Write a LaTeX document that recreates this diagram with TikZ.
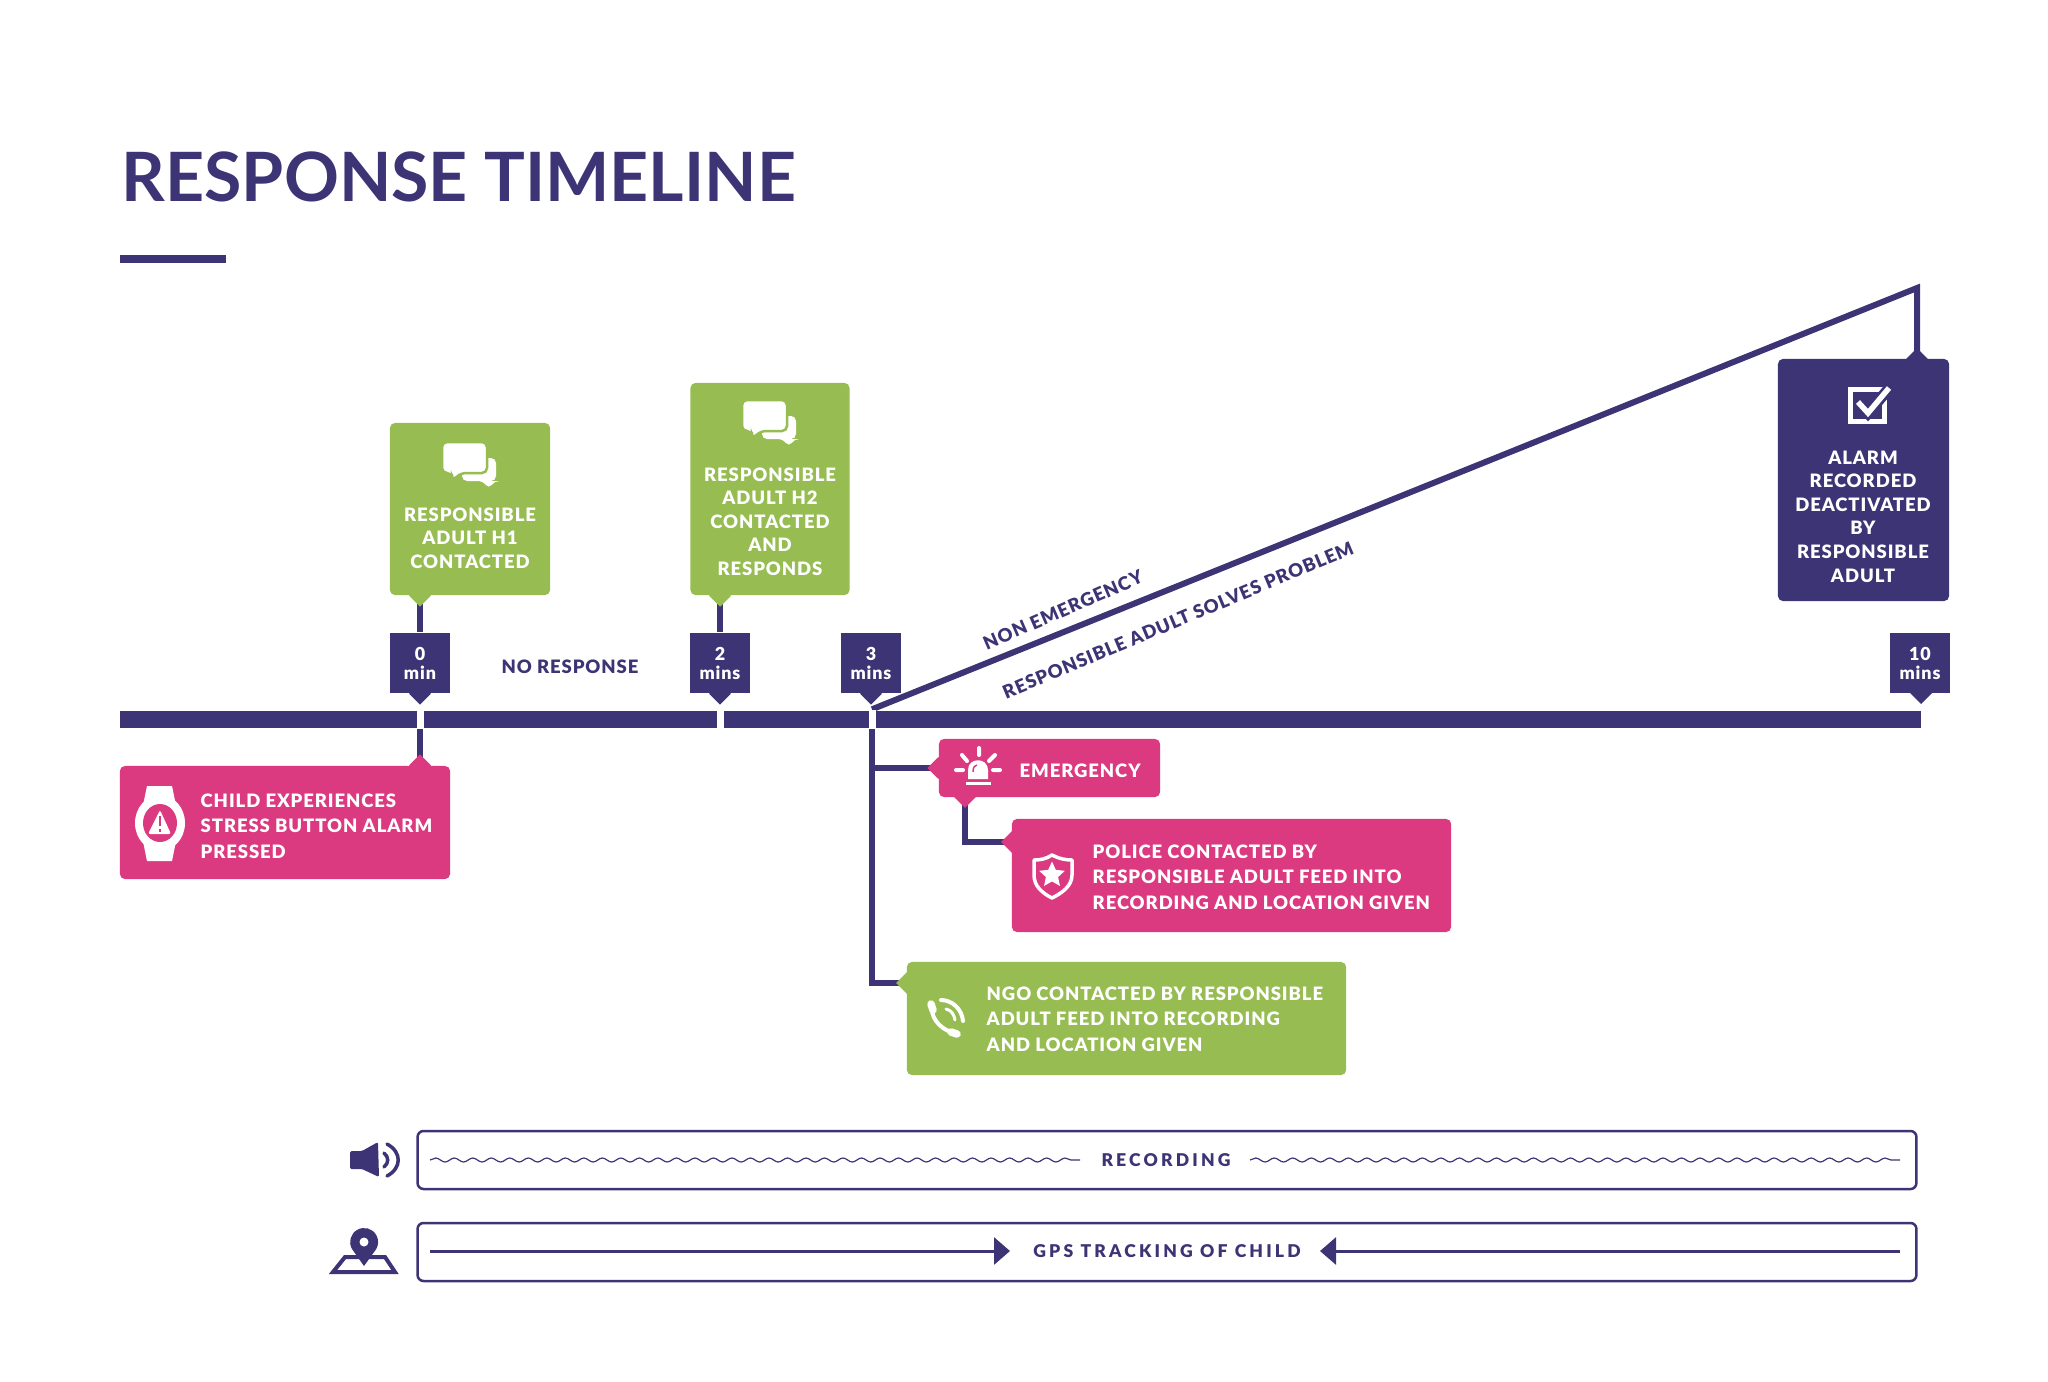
\documentclass[tikz,border=0pt]{standalone}
\usepackage{fontspec}
\setmainfont{Lato}
\newfontfamily\heavy[LetterSpace=5]{Lato Black}
\usepackage{xcolor}
\usepackage{tikz}
\usetikzlibrary{shapes,arrows.meta,positioning,calc,backgrounds,decorations.pathmorphing}
\definecolor{tlnavy}{RGB}{60,52,116}
\definecolor{tlgreen}{RGB}{150,188,82}
\definecolor{tlpink}{RGB}{219,58,128}
\tikzset{
    bubbles/.pic={
        \fill[white, rounded corners=.05cm] (-8,-7) -- (26,-7) -- (26,16) -- (24,16) -- (19,24) -- (13,16) -- (-8,16) -- cycle;
        \path[fill=white, draw=tlgreen, line width=.025cm, rounded corners=.05cm]
            (-28,-23) -- (17,-23) -- (17,8) -- (-9,8) -- (-18,16) -- (-18,8) -- (-28,8) -- cycle;
    }
}

\begin{document}
\begin{tikzpicture}[
    x=.01cm, y=-.01cm,
    card/.style={rectangle, rounded corners=.05cm, inner sep=0pt},
    greencard/.style={card, fill=tlgreen},
    pinkcard/.style={card, fill=tlpink},
    navycard/.style={card, fill=tlnavy},
    tagbox/.style={rectangle, fill=tlnavy, text=white, minimum width=.6cm, minimum height=.6cm, inner sep=0pt,
                align=center, font=\fontsize{5.1}{5.4}\heavy, execute at begin node={\rule{0pt}{5.9pt}}},
    tipmark/.style={rectangle, rotate=45, minimum size=.155cm, inner sep=0pt},
    cardtext/.style={text=white, inner sep=0pt, align=center, font=\fontsize{5.25}{6.7}\heavy},
    sidetext/.style={text=white, inner sep=0pt, anchor=west, align=left, font=\fontsize{5.25}{7.25}\heavy},
    navytext/.style={text=tlnavy, inner sep=0pt, font=\fontsize{5.25}{6}\heavy},
    spaced/.style={text=tlnavy, inner sep=0pt, font=\fontsize{5}{6}\heavy\addfontfeature{LetterSpace=18}},
    gap/.style={rectangle, fill=white, minimum width=.07cm, minimum height=.18cm, inner sep=0pt},
    stem/.style={draw=tlnavy, line width=.06cm},
    band/.style={rectangle, draw=tlnavy, line width=.025cm, rounded corners=.06cm, minimum height=.58cm, inner sep=0pt},
    icon/.style={white, line width=.04cm, line cap=round},
    navyicon/.style={tlnavy, line width=.04cm}
]
    \useasboundingbox (0,0) rectangle (2048,1381);

    % title
    \node[text=tlnavy, inner sep=0pt, anchor=west, font=\fontsize{19.35}{24}\selectfont\bfseries] (title) at (121,177) {RESPONSE TIMELINE};
    \node[rectangle, fill=tlnavy, minimum width=1.06cm, minimum height=.08cm, inner sep=0pt] (rule) at (173,259) {};

    % main bar and the gaps in it
    \node[rectangle, fill=tlnavy, minimum width=18.0cm, minimum height=.17cm, inner sep=0pt] (timebar) at (1020.5,719) {};
    \node[gap] (gapzero)  at (420,719) {};
    \node[gap] (gaptwo)   at (720,719) {};
    \node[gap] (gapthree) at (872,719) {};

    % time tags
    \node[tagbox] (tagzero)  at ( 420,663) {0\\min};
    \node[tagbox] (tagtwo)   at ( 720,663) {2\\mins};
    \node[tagbox] (tagthree) at ( 871,663) {3\\mins};
    \node[tagbox] (tagten)   at (1920,663) {10\\mins};
    \foreach \t in {tagzero,tagtwo,tagthree}
        \node[tipmark, fill=tlnavy] (\t tip) at (\t.south) {};
    \node[tipmark, fill=tlnavy] (tagtentip) at (1921,693) {};

    % cards
    \node[greencard, minimum width=1.6cm, minimum height=1.72cm]  (adultone) at (470,509) {};
    \node[greencard, minimum width=1.59cm, minimum height=2.12cm] (adulttwo) at (770,489) {};
    \node[navycard,  minimum width=1.71cm, minimum height=2.42cm] (alarm)    at (1863.5,480) {};
    \node[pinkcard,  minimum width=3.30cm, minimum height=1.13cm] (child)    at (285,822.5) {};
    \node[pinkcard,  minimum width=2.21cm, minimum height=.58cm]  (emergency) at (1049.5,768) {};
    \node[pinkcard,  minimum width=4.39cm, minimum height=1.13cm] (police)   at (1231.5,875.5) {};
    \node[greencard, minimum width=4.39cm, minimum height=1.13cm] (ngo)      at (1126.5,1018.5) {};

    \node[tipmark, fill=tlgreen] (adultonetip) at (adultone.south -| tagzero) {};
    \node[tipmark, fill=tlgreen] (adulttwotip) at (adulttwo.south -| tagtwo) {};
    \node[tipmark, fill=tlnavy]  (alarmtip)    at (1917,359) {};
    \node[tipmark, fill=tlpink]  (childtip)    at (child.north -| tagzero) {};
    \node[tipmark, fill=tlpink]  (emergencytip)  at (emergency.west) {};
    \node[tipmark, fill=tlpink]  (emergencydown) at (965,797) {};
    \node[tipmark, fill=tlpink]  (policetip)   at (1012,842) {};
    \node[tipmark, fill=tlgreen] (ngotip)      at (907,983) {};

    % connectors
    \coordinate (apex) at (1917,288);
    \begin{scope}[on background layer]
        \draw[stem] (tagzero) -- (adultonetip.center);
        \draw[stem] (tagtwo) -- (adulttwotip.center);
        \draw[stem] (gapzero.south) -- (childtip.center);
        \draw[stem] (gapthree.south) |- (ngotip.center);
        \draw[stem] (gapthree.south |- emergencytip) -- (emergencytip.center);
        \draw[stem] (emergencydown.center) |- (policetip.center);
        \draw[stem] (gapthree.north) -- (apex) -- (alarmtip.center);
    \end{scope}

    % labels
    \node[cardtext] (adultonetxt) at (470,538) {RESPONSIBLE\\ADULT H1\\CONTACTED};
    \node[cardtext] (adulttwotxt) at (770,521.5) {RESPONSIBLE\\ADULT H2\\CONTACTED\\AND\\RESPONDS};
    \node[cardtext] (alarmtxt) at (1863,516.5) {ALARM\\RECORDED\\DEACTIVATED\\BY\\RESPONSIBLE\\ADULT};
    \node[sidetext] (childtxt) at (200,826) {CHILD EXPERIENCES\\STRESS BUTTON ALARM\\PRESSED};
    \node[sidetext] (emergencytxt) at (1019,771) {EMERGENCY};
    \node[sidetext] (policetxt) at (1092,877) {POLICE CONTACTED BY\\RESPONSIBLE ADULT FEED INTO\\RECORDING AND LOCATION GIVEN};
    \node[sidetext] (ngotxt) at (986,1019) {NGO CONTACTED BY RESPONSIBLE\\ADULT FEED INTO RECORDING\\AND LOCATION GIVEN};
    \node[navytext] (noresponse) at (570,667) {NO RESPONSE};
    \node[navytext, rotate=23.5] (nonemergency) at (1063,610) {NON EMERGENCY};
    \node[navytext, rotate=22.7] (solves) at (1178,620) {RESPONSIBLE ADULT SOLVES PROBLEM};

    % recording and tracking bands
    \node[band, minimum width=14.98cm] (recording) at (1167,1160) {};
    \node[band, minimum width=14.98cm] (tracking)  at (1167,1252) {};
    \node[spaced] (recordingtxt) at (1166,1160) {RECORDING};
    \node[spaced] (trackingtxt)  at (1167,1251) {GPS TRACKING OF CHILD};
    \coordinate (recleft)  at (430,1160);
    \coordinate (recright) at (1900,1160);
    \coordinate (gpsleft)  at (430,1251);
    \coordinate (gpsright) at (1900,1251);
    \draw[tlnavy, line width=.012cm, decorate, decoration={snake, segment length=.185cm, amplitude=.02cm}]
        (recleft) -- (1080,1160);
    \draw[tlnavy, line width=.012cm, decorate, decoration={snake, segment length=.185cm, amplitude=.02cm}]
        (1250,1160) -- (recright);
    \draw[-{Triangle[length=.16cm, width=.27cm]}, tlnavy, line width=.03cm] (gpsleft) -- (1010,1251);
    \draw[-{Triangle[length=.16cm, width=.27cm]}, tlnavy, line width=.03cm] (gpsright) -- (1320,1251);

    % icons
    \pic (bubblesone) at (470,465) {bubbles};
    \pic (bubblestwo) at (770,423) {bubbles};

    % watch
    \fill[white] (147,786) -- (172,786) -- (178,815) -- (178,831) -- (172,861) -- (147,861) -- (141,831) -- (141,815) -- cycle;
    \fill[white] (160,823) ellipse [x radius=25, y radius=28];
    \fill[tlpink] (160,823) ellipse [x radius=17, y radius=19];
    \fill[white, rounded corners=.02cm] (160,810) -- (171,834) -- (148,834) -- cycle;
    \draw[tlpink, line width=.025cm] (160,816) -- (160,826) (160,829) -- (160,832);

    % siren
    \fill[white] (968,779) -- (968,770) .. controls (968,757) and (988,757) .. (988,770) -- (988,779) -- cycle;
    \draw[tlpink, line width=.015cm] (973,772) .. controls (973,767) and (975,765) .. (977,765);
    \fill[white] (966,782) rectangle (991,785);
    \draw[icon] (979,748) -- (979,755) (962,755) -- (967,761) (995,755) -- (989,761) (956,770) -- (963,770) (993,770) -- (1000,770);

    % shield
    \draw[white, line width=.035cm, line join=round] (1052,855) .. controls (1060,859) and (1066,860) .. (1072,860)
        -- (1072,875) .. controls (1072,886) and (1062,893) .. (1052,898)
        .. controls (1042,893) and (1034,886) .. (1034,875) -- (1034,860) .. controls (1040,860) and (1046,859) .. (1052,855) -- cycle;
    \node[star, star points=5, star point ratio=2.1, fill=white, minimum size=.27cm, inner sep=0pt] (shieldstar) at (1052,875) {};

    % phone
    \draw[white, line width=.04cm, line cap=round] (932,1008) .. controls (931,1020) and (944,1032) .. (956,1033);
    \draw[white, line width=.075cm, line cap=round] (931,1004) -- (933,1010);
    \draw[white, line width=.075cm, line cap=round] (951,1032) -- (957,1034);
    \draw[icon] (941,1000) .. controls (952,1000) and (962,1009) .. (963,1021);
    \draw[icon, line width=.03cm] (946,1009) .. controls (951,1010) and (954,1014) .. (955,1020);

    % check box
    \draw[white, line width=.05cm] (1850,389) rectangle (1884,421);
    \draw[tlnavy, line width=.11cm] (1859,403) -- (1868,413) -- (1891,386);
    \draw[white, line width=.055cm] (1858,402) -- (1868,413) -- (1889,388);

    % speaker
    \fill[tlnavy, rounded corners=.015cm] (350,1151) -- (362,1151) -- (378,1142) -- (379,1177) -- (362,1169) -- (350,1169) -- cycle;
    \draw[tlnavy, line width=.035cm, line cap=round] (384,1153) .. controls (389,1157) and (389,1163) .. (384,1167);
    \draw[tlnavy, line width=.035cm, line cap=round] (387,1144) .. controls (402,1152) and (402,1168) .. (387,1176);

    % map pin
    \draw[navyicon] (345,1257) -- (385,1257) -- (395,1272) -- (333,1272) -- cycle;
    \fill[tlnavy] (364,1266) -- (352,1249) arc [start angle=150, end angle=390, radius=14] -- cycle;
    \fill[white] (364,1242) circle [radius=4.5];
\end{tikzpicture}
\end{document}
